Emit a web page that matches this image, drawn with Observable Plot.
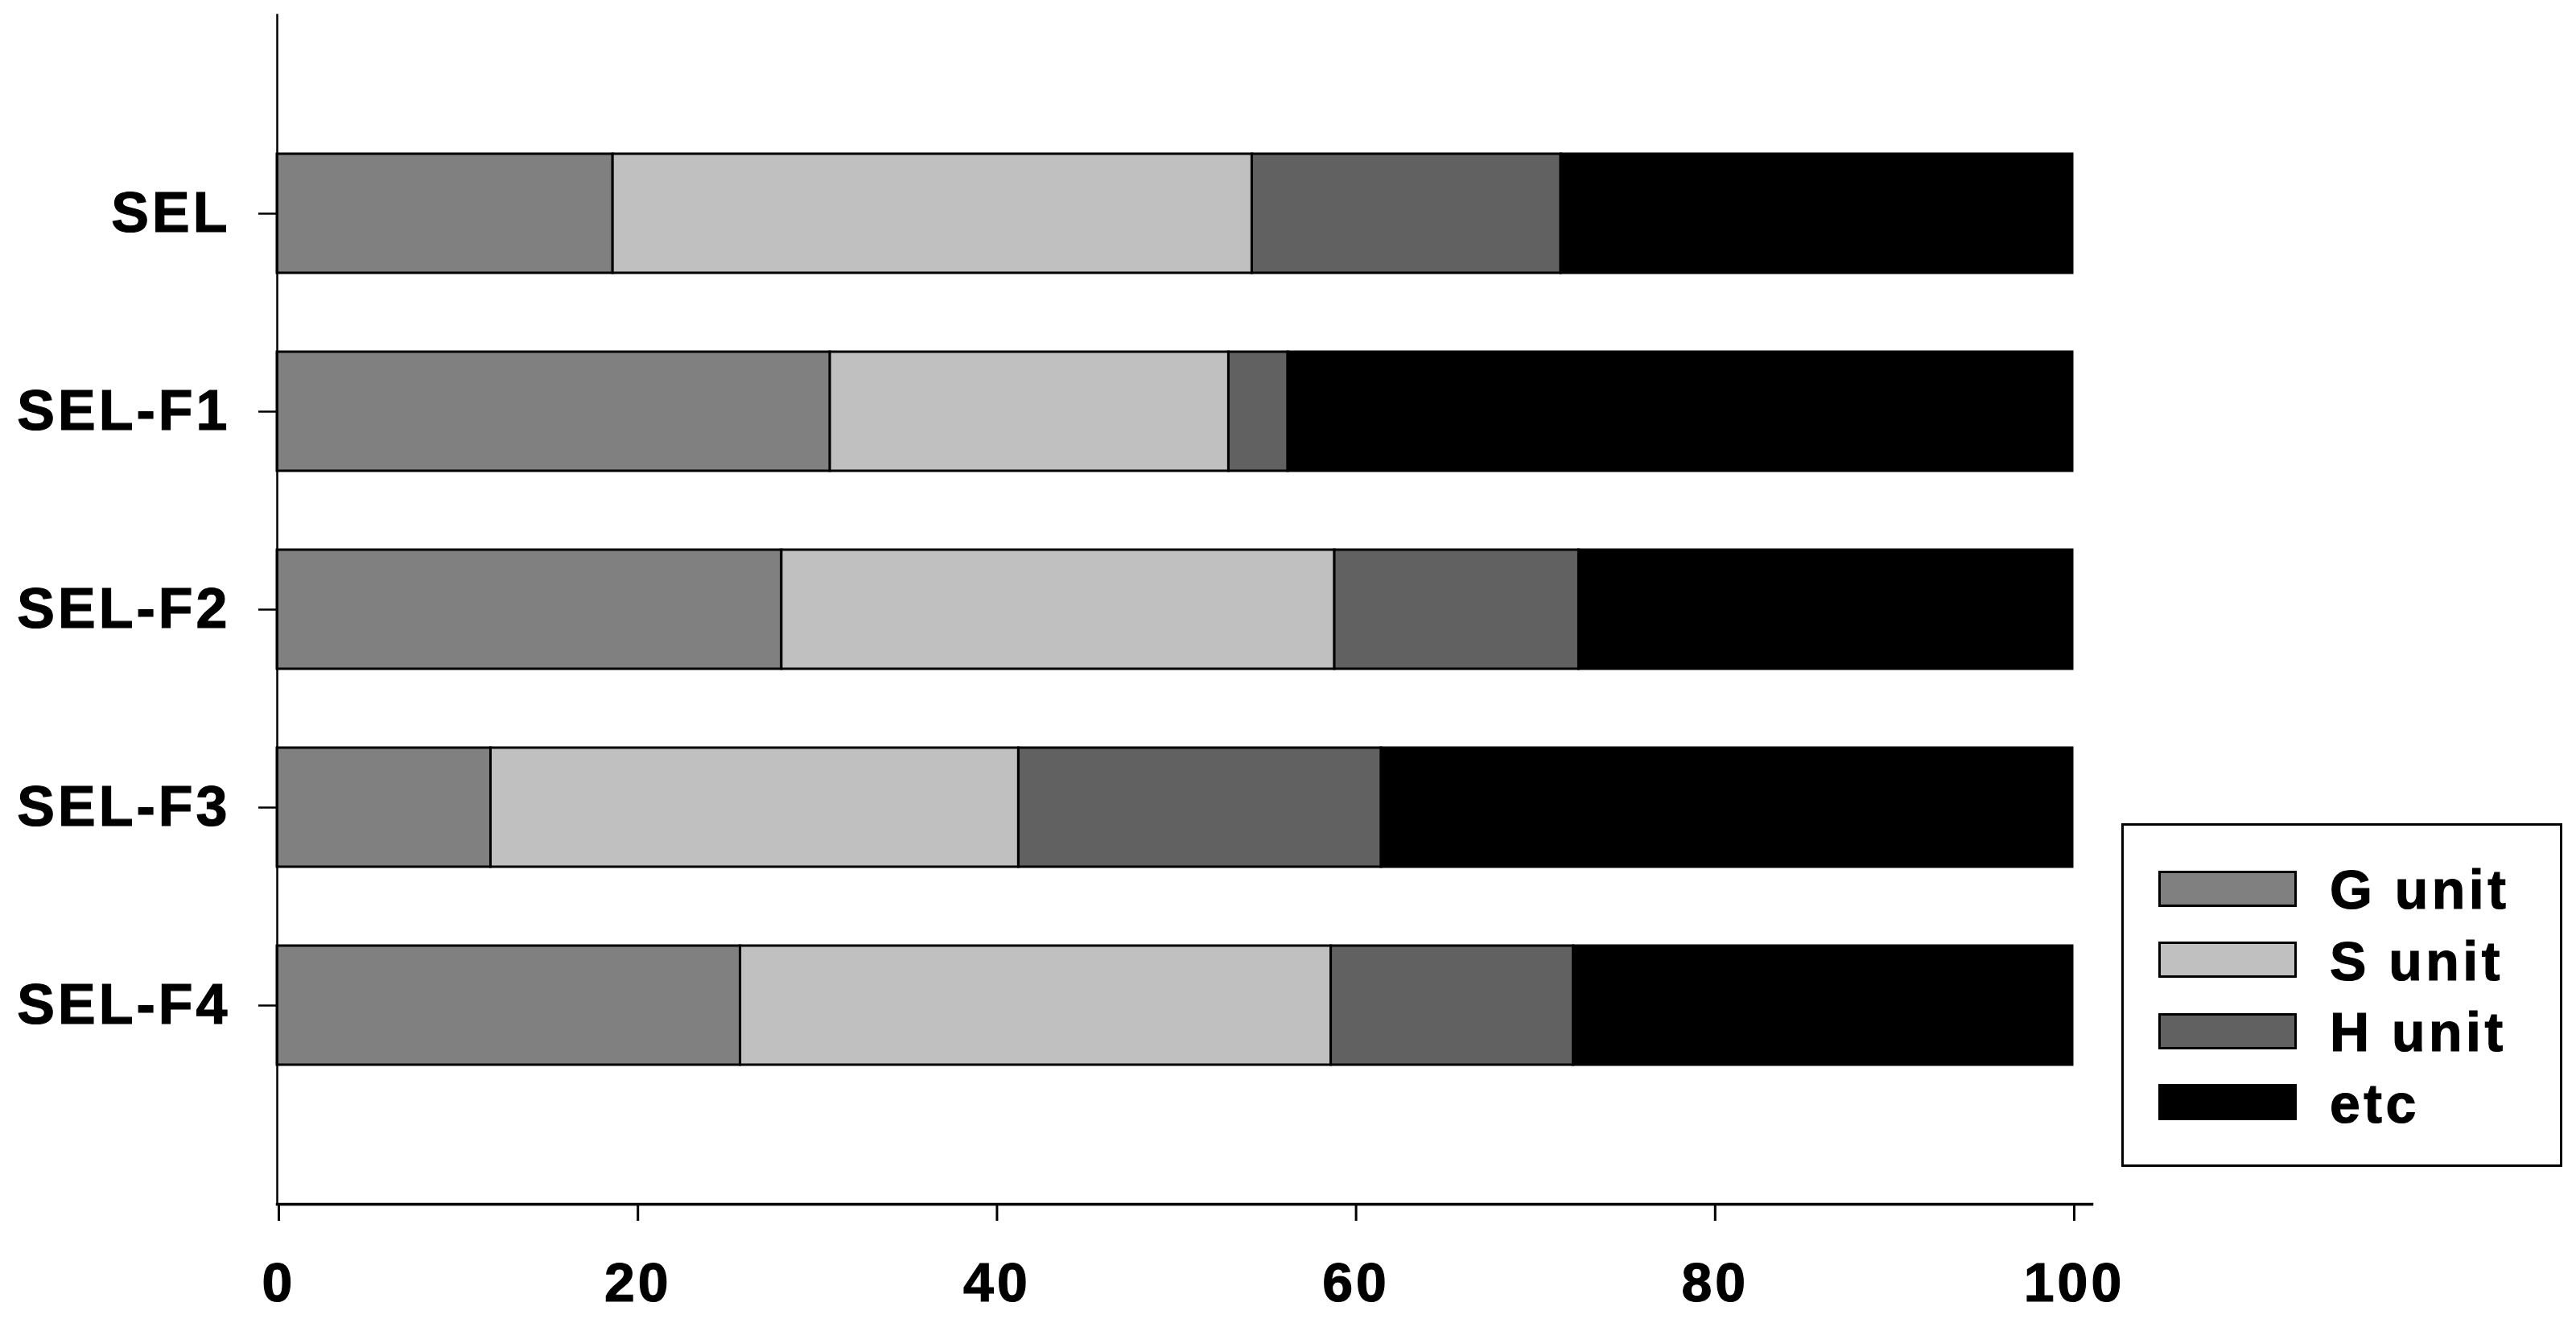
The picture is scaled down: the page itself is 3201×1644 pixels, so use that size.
<!DOCTYPE html>
<html>
<head>
<meta charset="utf-8">
<script src="https://cdn.jsdelivr.net/npm/d3@7"></script>
<script src="https://cdn.jsdelivr.net/npm/@observablehq/plot@0.6"></script>
<style>
  html, body { margin: 0; padding: 0; background: #fff; }
  #wrap { position: relative; width: 3201px; height: 1644px; overflow: hidden; }
  #chart svg { display: block; }
  #chart svg text { letter-spacing: 4px; stroke: #000; stroke-width: 1.2px; paint-order: stroke; }
  #legend {
    position: absolute; left: 2636px; top: 1023px; width: 548px; height: 427px;
    box-sizing: border-box; border: 3px solid #000; background: #fff;
    padding-top: 34px;
    font-family: "Liberation Sans", Arial, sans-serif; font-weight: bold; font-size: 68px;
    letter-spacing: 4.5px; color: #000; -webkit-text-stroke: 1.2px #000;
  }
  .row { height: 88.5px; display: flex; align-items: center; }
  .sw { box-sizing: border-box; width: 172px; height: 45px; border: 3px solid #000; margin-left: 43px; margin-right: 41px; }
  .lab { line-height: 1; position: relative; top: 1px; }
</style>
</head>
<body>
<div id="wrap">
  <div id="chart"></div>
  <div id="legend"></div>
</div>
<script>
// ---- data ----
const categories = ["SEL", "SEL-F1", "SEL-F2", "SEL-F3", "SEL-F4"];
const units = ["G unit", "S unit", "H unit", "etc"];
const gUnit = [18.7, 30.8, 28.1, 11.9, 25.8];
const sUnit = [35.6, 22.2, 30.8, 29.4, 32.9];
const hUnit = [17.2, 3.3, 13.6, 20.2, 13.5];
const etcUnit = [28.5, 43.7, 27.5, 38.5, 27.8];
const xTicks = [0, 20, 40, 60, 80, 100];

// ---- styles ----
const unitColors = ["#808080", "#c0c0c0", "#616161", "#000000"];

const series = [gUnit, sUnit, hUnit, etcUnit];
const rows = [];
categories.forEach((c, i) => {
  units.forEach((u, j) => rows.push({cat: c, unit: u, value: series[j][i]}));
});

const W = 3201, H = 1644;
const chart = Plot.plot({
  width: W,
  height: H,
  marginTop: 18,
  marginBottom: H - 1496,
  marginLeft: 344,
  marginRight: W - 2599,
  style: {fontFamily: "'Liberation Sans', Arial, sans-serif", fontWeight: "bold", fontSize: "70px", color: "#000", background: "#fff"},
  x: {domain: [0, 100], range: [344, 2575]},
  y: {type: "band", domain: categories, paddingInner: 0.4, paddingOuter: 0.7},
  color: {domain: units, range: unitColors},
  marks: [
    Plot.barX(rows, {x: "value", y: "cat", fill: "unit", stroke: "#000", strokeWidth: 3}),
    Plot.frame({anchor: "left", stroke: "#000", strokeWidth: 2.5}),
    Plot.frame({anchor: "bottom", stroke: "#000", strokeWidth: 3.5}),
    Plot.axisY({tickSize: 23, tickPadding: 35, fontSize: 70, fontWeight: "bold", label: null, stroke: "#000", strokeWidth: 2.5}),
    Plot.axisX({ticks: xTicks, tickSize: 21, tickPadding: 51, fontSize: 68, fontWeight: "bold", label: null, stroke: "#000", strokeWidth: 3, dx: 2})
  ]
});
document.getElementById("chart").appendChild(chart);

// ---- legend ----
const legend = document.getElementById("legend");
units.forEach((u, i) => {
  const row = document.createElement("div");
  row.className = "row";
  const sw = document.createElement("div");
  sw.className = "sw";
  sw.style.background = unitColors[i];
  const lab = document.createElement("span");
  lab.className = "lab";
  lab.textContent = u;
  row.appendChild(sw);
  row.appendChild(lab);
  legend.appendChild(row);
});
</script>
</body>
</html>
